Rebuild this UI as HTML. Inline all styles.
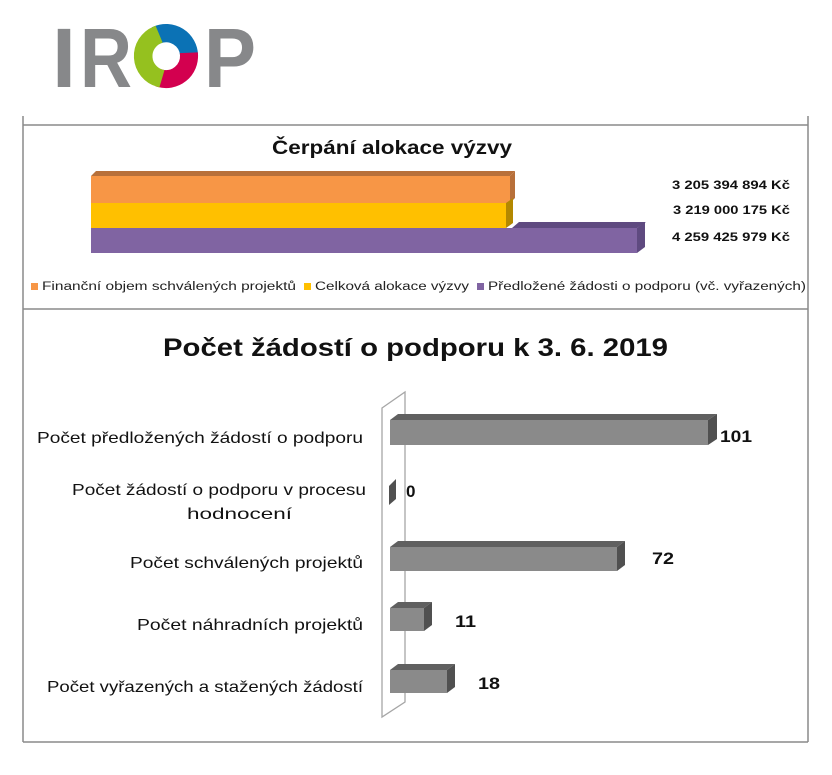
<!DOCTYPE html>
<html><head><meta charset="utf-8"><style>
body{margin:0;width:832px;height:775px;background:#fff;position:relative;overflow:hidden;font-family:"Liberation Sans",sans-serif}
</style></head><body>
<svg width="832" height="775" style="position:absolute;left:0;top:0" font-family="Liberation Sans, sans-serif">
<text x="52" y="87" font-size="84" font-weight="bold" fill="#87888a" textLength="24" lengthAdjust="spacingAndGlyphs">I</text>
<text x="80" y="87" font-size="84" font-weight="bold" fill="#87888a" textLength="52" lengthAdjust="spacingAndGlyphs">R</text>
<text x="204" y="87" font-size="84" font-weight="bold" fill="#87888a" textLength="52" lengthAdjust="spacingAndGlyphs">P</text>
<g transform="translate(166,56)">
<path d="M-11.5,-27.7 A30,30 0 0 1 30,-1.5 L16,-1 A16,16 0 0 0 -6,-14.5 Z" fill="#0b72b5" stroke="#0b72b5" stroke-width="4"/>
<path d="M30,-1.5 A30,30 0 0 1 -8,29 L-4,15.5 A16,16 0 0 0 16,-1 Z" fill="#d3004f" stroke="#d3004f" stroke-width="4"/>
<path d="M-8,29 A30,30 0 0 1 -11.5,-27.7 L-6,-14.5 A16,16 0 0 0 -4,15.5 Z" fill="#95c11f" stroke="#95c11f" stroke-width="4"/>
</g>
<g stroke="#8a8a8a" stroke-width="1.5" fill="none">
<line x1="23" y1="116" x2="23" y2="742"/>
<line x1="23" y1="125" x2="808" y2="125"/>
<line x1="808" y1="116" x2="808" y2="742"/>
<line x1="23" y1="309" x2="808" y2="309"/>
<line x1="23" y1="742" x2="808" y2="742"/>
</g>
<text x="272" y="154" font-size="19" font-weight="bold" fill="#111" textLength="240" lengthAdjust="spacingAndGlyphs">Čerpání alokace výzvy</text>
<polygon points="91,176 96,171 515,171 510,176" fill="#b8703a"/>
<polygon points="510,176 515,171 515,198 510,203" fill="#b8703a"/>
<rect x="91" y="176" width="419" height="27" fill="#f79646"/>
<polygon points="506,203 513,198 513,223 506,228" fill="#b38800"/>
<rect x="91" y="203" width="415" height="25" fill="#ffc000"/>
<polygon points="512,228 519,222 646,222 637,228" fill="#5f4a80"/>
<polygon points="637,228 645,222 645,247 637,253" fill="#5f4a80"/>
<rect x="91" y="228" width="546" height="25" fill="#8064a2"/>
<g font-size="12" font-weight="bold" fill="#111">
<text x="672" y="189" textLength="118" lengthAdjust="spacingAndGlyphs">3 205 394 894 Kč</text>
<text x="673" y="214" textLength="117" lengthAdjust="spacingAndGlyphs">3 219 000 175 Kč</text>
<text x="672" y="241" textLength="118" lengthAdjust="spacingAndGlyphs">4 259 425 979 Kč</text>
</g>
<g font-size="11.5" fill="#222">
<rect x="31" y="283" width="7" height="7" fill="#f79646"/><text x="42" y="290" textLength="254" lengthAdjust="spacingAndGlyphs">Finanční objem schválených projektů</text>
<rect x="304" y="283" width="7" height="7" fill="#ffc000"/><text x="315" y="290" textLength="154" lengthAdjust="spacingAndGlyphs">Celková alokace výzvy</text>
<rect x="477" y="283" width="7" height="7" fill="#8064a2"/><text x="488" y="290" textLength="318" lengthAdjust="spacingAndGlyphs">Předložené žádosti o podporu (vč. vyřazených)</text>
</g>
<text x="163" y="356" font-size="25" font-weight="bold" fill="#111" textLength="505" lengthAdjust="spacingAndGlyphs">Počet žádostí o podporu k 3. 6. 2019</text>
<polygon points="382,408 405,392 405,702 382,717" fill="none" stroke="#a6a6a6" stroke-width="1.3"/>
<g>
<polygon points="390,420 398,414 717,414 708,420" fill="#606060"/><polygon points="708,420 717,414 717,439 708,445" fill="#505050"/><rect x="390" y="420" width="318" height="25" fill="#8a8a8a"/>
<polygon points="389,486 396,479 396,499 389,505" fill="#505050"/>
<polygon points="390,547 398,541 625,541 617,547" fill="#606060"/><polygon points="617,547 625,541 625,565 617,571" fill="#505050"/><rect x="390" y="547" width="227" height="24" fill="#8a8a8a"/>
<polygon points="390,608 398,602 432,602 424,608" fill="#606060"/><polygon points="424,608 432,602 432,625 424,631" fill="#505050"/><rect x="390" y="608" width="34" height="23" fill="#8a8a8a"/>
<polygon points="390,670 398,664 455,664 447,670" fill="#606060"/><polygon points="447,670 455,664 455,687 447,693" fill="#505050"/><rect x="390" y="670" width="57" height="23" fill="#8a8a8a"/>
</g>
<g font-size="17" font-weight="bold" fill="#111">
<text x="720" y="442" textLength="32" lengthAdjust="spacingAndGlyphs">101</text>
<text x="406" y="497">0</text>
<text x="652" y="564" textLength="22" lengthAdjust="spacingAndGlyphs">72</text>
<text x="455" y="627" textLength="21" lengthAdjust="spacingAndGlyphs">11</text>
<text x="478" y="689" textLength="22" lengthAdjust="spacingAndGlyphs">18</text>
</g>
<g font-size="16" fill="#111">
<text x="37" y="443" textLength="326" lengthAdjust="spacingAndGlyphs">Počet předložených žádostí o podporu</text>
<text x="72" y="495" textLength="294" lengthAdjust="spacingAndGlyphs">Počet žádostí o podporu v procesu</text>
<text x="187" y="519" textLength="105" lengthAdjust="spacingAndGlyphs">hodnocení</text>
<text x="130" y="568" textLength="233" lengthAdjust="spacingAndGlyphs">Počet schválených projektů</text>
<text x="137" y="630" textLength="226" lengthAdjust="spacingAndGlyphs">Počet náhradních projektů</text>
<text x="47" y="692" textLength="316" lengthAdjust="spacingAndGlyphs">Počet vyřazených a stažených žádostí</text>
</g>
</svg>
</body></html>
